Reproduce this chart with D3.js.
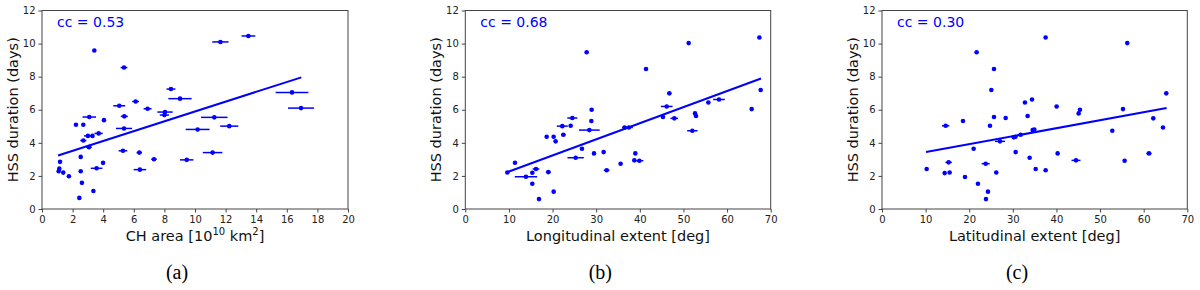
<!DOCTYPE html>
<html>
<head>
<meta charset="utf-8">
<title>HSS duration vs CH properties</title>
<script src="https://cdn.jsdelivr.net/npm/d3@7"></script>
<style>
  body { margin: 0; background: #fff; }
  text { font-family: "DejaVu Sans", sans-serif; }
</style>
</head>
<body>
<script>
// panel (a): CH area [10^10 km^2]
var aX = [1.09,1.13,1.18,1.39,1.76,2.22,2.7,2.7,2.53,2.53,2.61,2.44,3.42,3.09,3.0,3.3,3.07,3.7,3.57,3.36,4.05,3.99,5.05,5.36,5.38,5.36,5.29,6.12,6.36,6.4,6.9,7.32,8.43,8.04,8.0,9.02,9.46,10.17,11.26,11.15,11.66,12.24,13.49,16.34,16.93];
var aY = [2.28,2.44,2.85,2.2,1.98,5.09,5.09,4.14,3.15,2.28,1.58,0.67,9.58,5.56,4.42,4.42,3.74,4.57,2.46,1.09,5.37,2.79,6.24,8.55,5.6,4.87,3.52,6.5,3.41,2.38,6.06,3.01,7.25,5.86,5.68,6.67,2.97,4.81,5.54,3.41,10.1,5.01,10.46,7.05,6.1];
var aErr = [0,0,0,0,0,0,0,0.2,0,0.1,0,0,0,0.44,0.25,0.1,0.18,0.27,0.38,0,0,0.1,0.39,0.22,0.23,0.53,0.28,0.22,0.18,0.41,0.26,0.18,0.29,0.5,0.3,0.76,0.44,0.78,0.87,0.64,0.53,0.59,0.45,1.07,0.85];
var aFit = [[1.05, 3.23], [16.95, 7.96]];

// panel (b): longitudinal extent [deg]
var bX = [9.63,11.39,13.9,15.36,15.36,16.2,16.89,18.65,19.03,20.25,20.25,20.7,22.24,22.47,24.15,24.53,25.29,26.74,27.82,28.43,28.96,28.89,29.5,31.71,32.4,35.6,36.5,37.5,38.97,38.74,39.89,41.42,45.3,46.16,46.77,47.9,51.2,52.04,52.65,52.88,55.71,58.15,65.64,67.4,67.7];
var bY = [2.21,2.8,1.95,2.19,1.53,2.42,0.6,4.37,2.23,4.37,1.05,4.09,5.01,4.49,5.03,5.5,3.1,3.64,9.48,4.77,6.0,5.32,3.36,3.44,2.34,2.74,4.93,4.93,3.36,2.94,2.92,8.46,5.56,6.2,6.99,5.48,10.03,4.73,5.78,5.62,6.44,6.62,6.04,10.37,7.19];
var bErr = [0,0,2.56,0,0,0.76,0,0,0.57,0,0,0,1.26,0.53,0,1.15,1.87,0,0,2.37,0,0,0,0,0.65,0,0.5,0.9,0,0,0.92,0,0,1.34,0.46,0.88,0,1.18,0,0,0,1.34,0,0,0];
var bFit = [[9.63, 2.23], [67.78, 7.89]];

// panel (c): latitudinal extent [deg]
var cX = [10.24,14.6,14.37,15.28,15.51,18.57,19.03,21.01,21.7,22.0,23.77,23.84,24.3,24.76,25.07,25.68,25.68,26.2,27.05,28.35,30.2,30.6,30.64,31.79,32.78,33.39,33.85,34.39,34.54,34.92,35.23,37.52,37.52,40.04,40.27,44.48,45.09,45.39,52.8,55.25,55.63,56.24,61.21,62.2,64.42,65.18];
var cY = [2.42,5.03,2.17,2.82,2.21,5.32,1.93,3.64,9.48,1.53,2.74,0.6,1.05,5.03,7.19,8.46,5.56,2.21,4.09,5.5,4.33,4.37,3.44,4.49,6.44,5.62,3.1,6.62,4.77,4.81,2.42,2.34,10.37,6.2,3.36,2.94,5.78,6.0,4.73,6.04,2.92,10.03,3.36,5.48,4.93,6.99];
var cErr = [0,0.84,0,0.73,0,0,0,0,0,0,0.92,0,0,0,0,0,0,0,1.15,0,0,0,0,0,0,0,0,0,0,0.4,0,0,0,0,0,1.03,0,0,0,0,0,0,0.61,0,0,0];
var cFit = [[10.09, 3.44], [65.26, 6.1]];

var ccLabels = ["cc = 0.53", "cc = 0.68", "cc = 0.30"];
var xTitles = ["CH area [10", "Longitudinal extent [deg]", "Latitudinal extent [deg]"];
var captions = ["(a)", "(b)", "(c)"];
var xDomains = [[0, 20], [0, 70], [0, 70]];
var xTicks = [d3.range(0, 21, 2), d3.range(0, 71, 10), d3.range(0, 71, 10)];
var yTicks = d3.range(0, 13, 2);

var panels = [
  {x: aX, y: aY, err: aErr, fit: aFit, left: 42, right: 348},
  {x: bX, y: bY, err: bErr, fit: bFit, left: 465.3, right: 770.7},
  {x: cX, y: cY, err: cErr, fit: cFit, left: 882, right: 1187.3}
];

var W = 1200, H = 290, plotTop = 10.5, plotBottom = 209;
var blue = "#0000ff", frame = "#444";

var svg = d3.select("body").append("svg")
  .attr("width", W).attr("height", H);

panels.forEach(function(p, i) {
  var x = d3.scaleLinear().domain(xDomains[i]).range([p.left, p.right]);
  var y = d3.scaleLinear().domain([0, 12]).range([plotBottom, plotTop]);
  var g = svg.append("g");
  var idx = d3.range(p.x.length);

  // axes
  var xAxis = g.append("g").attr("transform", "translate(0," + plotBottom + ")")
    .call(d3.axisBottom(x).tickValues(xTicks[i]).tickSize(3.5).tickPadding(3).tickFormat(d3.format("d")));
  var yAxis = g.append("g").attr("transform", "translate(" + p.left + ",0)")
    .call(d3.axisLeft(y).tickValues(yTicks).tickSize(3.5).tickPadding(3).tickFormat(d3.format("d")));
  [xAxis, yAxis].forEach(function(ax) {
    ax.select(".domain").remove();
    ax.selectAll(".tick line").attr("stroke", frame);
    ax.selectAll(".tick text").attr("fill", "#222").style("font-size", "10px")
      .style("font-family", "'DejaVu Sans', sans-serif");
  });

  // frame
  g.append("rect")
    .attr("x", p.left).attr("y", plotTop)
    .attr("width", p.right - p.left).attr("height", plotBottom - plotTop)
    .attr("fill", "none").attr("stroke", frame).attr("stroke-width", 1);

  // error bars
  g.selectAll("line.err").data(idx.filter(function(k) { return p.err[k] > 0; }))
    .enter().append("line")
    .attr("class", "err")
    .attr("x1", function(k) { return x(p.x[k] - p.err[k]); })
    .attr("x2", function(k) { return x(p.x[k] + p.err[k]); })
    .attr("y1", function(k) { return y(p.y[k]); })
    .attr("y2", function(k) { return y(p.y[k]); })
    .attr("stroke", blue).attr("stroke-width", 1.5);

  // points
  g.selectAll("circle").data(idx)
    .enter().append("circle")
    .attr("cx", function(k) { return x(p.x[k]); })
    .attr("cy", function(k) { return y(p.y[k]); })
    .attr("r", 2.3)
    .attr("fill", blue);

  // fit line
  g.append("path")
    .attr("d", d3.line().x(function(d) { return x(d[0]); }).y(function(d) { return y(d[1]); })(p.fit))
    .attr("fill", "none").attr("stroke", blue).attr("stroke-width", 2);

  // cc label
  g.append("text").attr("x", p.left + 15).attr("y", 27)
    .attr("fill", blue).style("font-size", "14px").text(ccLabels[i]);

  // y title
  g.append("text")
    .attr("transform", "translate(" + (p.left - 24) + "," + ((plotTop + plotBottom) / 2) + ") rotate(-90)")
    .attr("text-anchor", "middle").attr("fill", "#111").style("font-size", "14.5px")
    .text("HSS duration (days)");

  // x title
  var xt = g.append("text")
    .attr("x", (p.left + p.right) / 2).attr("y", 241)
    .attr("text-anchor", "middle").attr("fill", "#111").style("font-size", "14.5px");
  if (i === 0) {
    xt.append("tspan").text(xTitles[0]);
    xt.append("tspan").attr("dy", -6).style("font-size", "10px").text("10");
    xt.append("tspan").attr("dy", 6).text(" km");
    xt.append("tspan").attr("dy", -6).style("font-size", "10px").text("2");
    xt.append("tspan").attr("dy", 6).text("]");
  } else {
    xt.text(xTitles[i]);
  }

  // caption
  g.append("text")
    .attr("x", p.left + 135).attr("y", 279)
    .attr("text-anchor", "middle").attr("fill", "#000")
    .style("font-family", "'Liberation Serif', serif").style("font-size", "20px")
    .text(captions[i]);
});
</script>
</body>
</html>
